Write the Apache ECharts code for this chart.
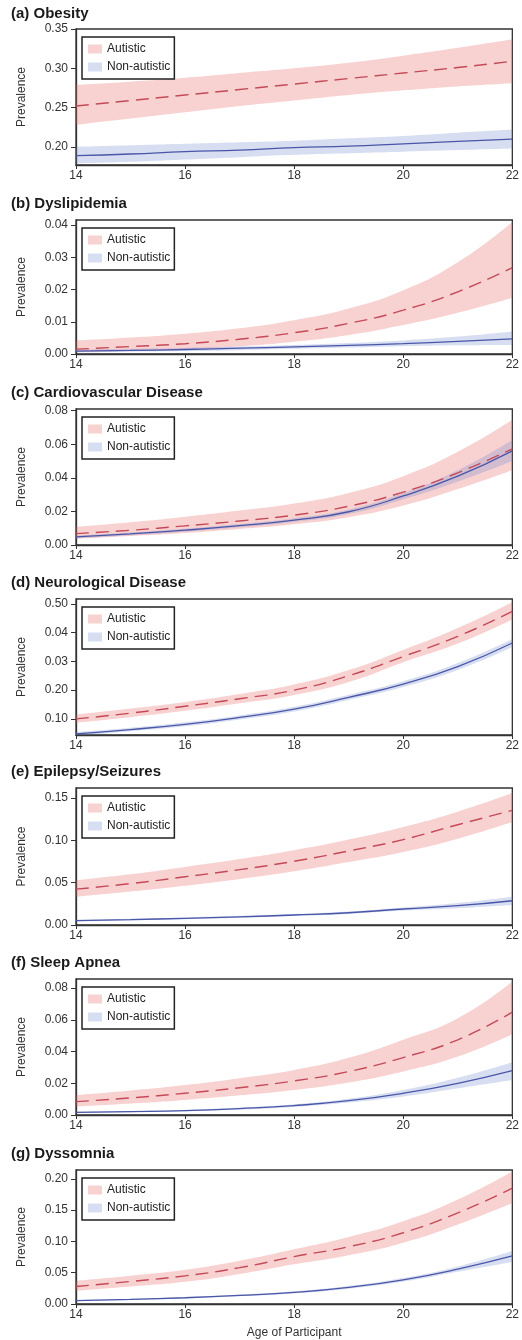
<!DOCTYPE html>
<html>
<head>
<meta charset="utf-8">
<script src="https://cdn.jsdelivr.net/npm/echarts@6/dist/echarts.min.js"></script>
<style>
  html, body { margin: 0; padding: 0; background: #fff; }
</style>
</head>
<body>
<div id="main" style="width: 522px; height: 1340px;"></div>
<script>
const ages = ['14', '15', '16', '17', '18', '19', '20', '21', '22']

// (a) Obesity
const obesityAutMean = [0.252, 0.259, 0.266, 0.273, 0.280, 0.287, 0.294, 0.301, 0.309]
const obesityAutHigh = [0.279, 0.283, 0.288, 0.294, 0.300, 0.307, 0.316, 0.326, 0.337]
const obesityAutLow = [0.228, 0.236, 0.244, 0.252, 0.259, 0.266, 0.272, 0.277, 0.281]
const obesityNonMean = [0.189, 0.191, 0.194, 0.196, 0.199, 0.201, 0.204, 0.207, 0.210]
const obesityNonHigh = [0.200, 0.202, 0.204, 0.206, 0.208, 0.211, 0.214, 0.218, 0.222]
const obesityNonLow = [0.179, 0.181, 0.184, 0.187, 0.190, 0.192, 0.194, 0.196, 0.198]

// (b) Dyslipidemia
const dysliAutMean = [0.0015, 0.0023, 0.0032, 0.0046, 0.0066, 0.0095, 0.0136, 0.0193, 0.0268]
const dysliAutHigh = [0.0042, 0.0051, 0.0063, 0.0080, 0.0105, 0.0141, 0.0198, 0.0285, 0.0410]
const dysliAutLow = [0.0006, 0.0009, 0.0014, 0.0024, 0.0038, 0.0059, 0.0090, 0.0128, 0.0175]
const dysliNonMean = [0.0009, 0.0011, 0.0014, 0.0018, 0.0022, 0.0027, 0.0032, 0.0039, 0.0047]
const dysliNonHigh = [0.0013, 0.0016, 0.0019, 0.0023, 0.0028, 0.0034, 0.0042, 0.0054, 0.0070]
const dysliNonLow = [0.0005, 0.0007, 0.0009, 0.0012, 0.0016, 0.0020, 0.0024, 0.0027, 0.0028]

// (c) Cardiovascular Disease
const cardioAutMean = [0.0068, 0.0088, 0.0114, 0.0143, 0.0178, 0.0231, 0.0315, 0.0430, 0.0573]
const cardioAutHigh = [0.0108, 0.0135, 0.0168, 0.0205, 0.0247, 0.0310, 0.0410, 0.0555, 0.0746]
const cardioAutLow = [0.0038, 0.0054, 0.0072, 0.0096, 0.0124, 0.0166, 0.0235, 0.0333, 0.0447]
const cardioNonMean = [0.0048, 0.0066, 0.0088, 0.0115, 0.0148, 0.0198, 0.0292, 0.0410, 0.0561]
const cardioNonHigh = [0.0056, 0.0075, 0.0097, 0.0125, 0.0160, 0.0212, 0.0310, 0.0445, 0.0625]
const cardioNonLow = [0.0040, 0.0058, 0.0079, 0.0105, 0.0137, 0.0184, 0.0272, 0.0378, 0.0500]

// (d) Neurological Disease
const neuroAutMean = [0.100, 0.120, 0.144, 0.170, 0.200, 0.250, 0.317, 0.387, 0.474]
const neuroAutHigh = [0.115, 0.136, 0.159, 0.187, 0.220, 0.270, 0.340, 0.416, 0.506]
const neuroAutLow = [0.087, 0.106, 0.128, 0.154, 0.183, 0.228, 0.297, 0.362, 0.446]
const neuroNonMean = [0.048, 0.063, 0.081, 0.105, 0.134, 0.175, 0.221, 0.282, 0.364]
const neuroNonHigh = [0.054, 0.069, 0.088, 0.112, 0.142, 0.184, 0.231, 0.294, 0.378]
const neuroNonLow = [0.042, 0.057, 0.074, 0.098, 0.126, 0.166, 0.211, 0.270, 0.350]

// (e) Epilepsy/Seizures
const epiAutMean = [0.0424, 0.0490, 0.0570, 0.0655, 0.0754, 0.0876, 0.1010, 0.1186, 0.1355]
const epiAutHigh = [0.0530, 0.0600, 0.0687, 0.0780, 0.0884, 0.1010, 0.1159, 0.1340, 0.1560]
const epiAutLow = [0.0334, 0.0395, 0.0464, 0.0545, 0.0636, 0.0745, 0.0864, 0.1021, 0.1218]
const epiNonMean = [0.0051, 0.0064, 0.0079, 0.0097, 0.0118, 0.0145, 0.0189, 0.0228, 0.0287]
const epiNonHigh = [0.0061, 0.0075, 0.0090, 0.0108, 0.0130, 0.0160, 0.0208, 0.0260, 0.0334]
const epiNonLow = [0.0042, 0.0054, 0.0068, 0.0085, 0.0106, 0.0131, 0.0170, 0.0198, 0.0236]

// (f) Sleep Apnea
const apneaAutMean = [0.0084, 0.0108, 0.0137, 0.0172, 0.0215, 0.0274, 0.0362, 0.0474, 0.0648]
const apneaAutHigh = [0.0126, 0.0155, 0.0189, 0.0232, 0.0284, 0.0360, 0.0474, 0.0610, 0.0842]
const apneaAutLow = [0.0053, 0.0072, 0.0095, 0.0124, 0.0158, 0.0205, 0.0274, 0.0368, 0.0509]
const apneaNonMean = [0.0017, 0.0021, 0.0027, 0.0040, 0.0059, 0.0090, 0.0137, 0.0200, 0.0280]
const apneaNonHigh = [0.0020, 0.0025, 0.0032, 0.0047, 0.0068, 0.0103, 0.0158, 0.0235, 0.0333]
const apneaNonLow = [0.0014, 0.0018, 0.0023, 0.0034, 0.0051, 0.0078, 0.0116, 0.0168, 0.0221]

// (g) Dyssomnia
const dyssAutMean = [0.028, 0.036, 0.045, 0.058, 0.0757, 0.0915, 0.1138, 0.1455, 0.185]
const dyssAutHigh = [0.037, 0.045, 0.0545, 0.069, 0.0873, 0.107, 0.132, 0.1667, 0.2116]
const dyssAutLow = [0.0212, 0.028, 0.0354, 0.048, 0.0635, 0.078, 0.0979, 0.127, 0.1614]
const dyssNonMean = [0.0053, 0.0073, 0.010, 0.0137, 0.0185, 0.0265, 0.0386, 0.0556, 0.0767]
const dyssNonHigh = [0.0063, 0.0084, 0.0113, 0.0152, 0.0203, 0.0288, 0.0415, 0.0600, 0.0847]
const dyssNonLow = [0.0044, 0.0063, 0.0088, 0.0123, 0.0168, 0.0243, 0.0358, 0.0515, 0.0672]

// tick values and labels (d keeps the labels as printed in the figure)
const obesityTicks = [0.20, 0.25, 0.30, 0.35]
const obesityTickLabels = ['0.20', '0.25', '0.30', '0.35']
const dysliTicks = [0, 0.01, 0.02, 0.03, 0.04]
const dysliTickLabels = ['0.00', '0.01', '0.02', '0.03', '0.04']
const cardioTicks = [0, 0.02, 0.04, 0.06, 0.08]
const cardioTickLabels = ['0.00', '0.02', '0.04', '0.06', '0.08']
const neuroTicks = [0.1, 0.2, 0.3, 0.4, 0.5]
const neuroTickLabels = ['0.10', '0.20', '0.03', '0.04', '0.50']
const epiTicks = [0, 0.05, 0.10, 0.15]
const epiTickLabels = ['0.00', '0.05', '0.10', '0.15']
const apneaTicks = [0, 0.02, 0.04, 0.06, 0.08]
const apneaTickLabels = ['0.00', '0.02', '0.04', '0.06', '0.08']
const dyssTicks = [0, 0.05, 0.10, 0.15, 0.20]
const dyssTickLabels = ['0.00', '0.05', '0.10', '0.15', '0.20']

const titles = ['(a) Obesity', '(b) Dyslipidemia', '(c) Cardiovascular Disease', '(d) Neurological Disease',
    '(e) Epilepsy/Seizures', '(f) Sleep Apnea', '(g) Dyssomnia']

const panels = [
    { aut: [obesityAutMean, obesityAutLow, obesityAutHigh], non: [obesityNonMean, obesityNonLow, obesityNonHigh],
        ticks: obesityTicks, labels: obesityTickLabels, min: 0.177, max: 0.35, top: 29, height: 136 },
    { aut: [dysliAutMean, dysliAutLow, dysliAutHigh], non: [dysliNonMean, dysliNonLow, dysliNonHigh],
        ticks: dysliTicks, labels: dysliTickLabels, min: 0, max: 0.0416, top: 220, height: 134 },
    { aut: [cardioAutMean, cardioAutLow, cardioAutHigh], non: [cardioNonMean, cardioNonLow, cardioNonHigh],
        ticks: cardioTicks, labels: cardioTickLabels, min: 0, max: 0.081, top: 409, height: 136 },
    { aut: [neuroAutMean, neuroAutLow, neuroAutHigh], non: [neuroNonMean, neuroNonLow, neuroNonHigh],
        ticks: neuroTicks, labels: neuroTickLabels, min: 0.044, max: 0.517, top: 599, height: 136 },
    { aut: [epiAutMean, epiAutLow, epiAutHigh], non: [epiNonMean, epiNonLow, epiNonHigh],
        ticks: epiTicks, labels: epiTickLabels, min: 0, max: 0.162, top: 788, height: 137 },
    { aut: [apneaAutMean, apneaAutLow, apneaAutHigh], non: [apneaNonMean, apneaNonLow, apneaNonHigh],
        ticks: apneaTicks, labels: apneaTickLabels, min: 0, max: 0.0857, top: 979, height: 136 },
    { aut: [dyssAutMean, dyssAutLow, dyssAutHigh], non: [dyssNonMean, dyssNonLow, dyssNonHigh],
        ticks: dyssTicks, labels: dyssTickLabels, min: 0, max: 0.214, top: 1170, height: 135 },
]

const FONT = '"Liberation Sans", Arial, sans-serif'
const PINK = 'rgba(231, 97, 97, 0.29)'
const BLUE = 'rgba(110, 135, 205, 0.28)'
const RED_LINE = '#c44a58'
const BLUE_LINE = '#4a56a8'

// band = lower bound, plus (upper - lower) stacked on top of it
const diffs = (lo, hi) => hi.map((h, i) => +(h - lo[i]).toFixed(5))

let option = {
    backgroundColor: '#fff',
    animation: false,
    textStyle: { fontFamily: FONT },
    title: [],
    legend: [],
    grid: [],
    xAxis: [],
    yAxis: [],
    series: [],
}

panels.forEach((p, i) => {
    option.title.push({
        text: titles[i],
        left: 6,
        top: p.top - (i === 0 ? 28 : 29),
        textStyle: { fontSize: 15, fontWeight: 'bold', color: '#1a1a1a', fontFamily: FONT },
    })
    option.grid.push({
        left: 76, right: 5, top: p.top, height: p.height,
        show: true, borderColor: '#333', borderWidth: 1.3, backgroundColor: 'transparent',
    })
    option.legend.push({
        left: 82, top: p.top + 8,
        orient: 'vertical',
        selectedMode: false,
        icon: 'rect',
        itemWidth: 14, itemHeight: 9, itemGap: 6,
        padding: [6, 4, 6, 6],
        borderColor: '#222', borderWidth: 1.5,
        textStyle: { fontSize: 12, color: '#222', fontFamily: FONT },
        data: [
            { name: 'Autistic', itemStyle: { color: PINK, borderWidth: 0 } },
            { name: 'Non-autistic', itemStyle: { color: BLUE, borderWidth: 0 } },
        ],
    })
    const last = i === panels.length - 1
    option.xAxis.push({
        type: 'category', gridIndex: i, data: ages, boundaryGap: false,
        axisLine: { show: true, lineStyle: { color: '#333', width: 1.3 } },
        axisTick: { show: true, length: 4, interval: 1, lineStyle: { color: '#333' } },
        axisLabel: { interval: 1, fontSize: 12, color: '#333', margin: 5, fontFamily: FONT },
        splitLine: { show: false },
        name: last ? 'Age of Participant' : '',
        nameLocation: 'middle', nameGap: 23,
        nameTextStyle: { fontSize: 12, color: '#333', fontFamily: FONT },
    })
    option.yAxis.push({
        type: 'value', gridIndex: i, min: p.min, max: p.max,
        axisLine: { show: true, lineStyle: { color: '#333', width: 1.3 } },
        axisTick: { show: true, length: 5, customValues: p.ticks, lineStyle: { color: '#333' } },
        axisLabel: {
            customValues: p.ticks, fontSize: 12, color: '#333', margin: 8, fontFamily: FONT,
            formatter: (v) => p.labels[p.ticks.findIndex((t) => Math.abs(t - v) < 1e-9)],
        },
        splitLine: { show: false },
        name: 'Prevalence', nameLocation: 'middle', nameGap: 48,
        nameTextStyle: { fontSize: 12, color: '#333', fontFamily: FONT },
    })

    const base = { type: 'line', xAxisIndex: i, yAxisIndex: i, symbol: 'none', smooth: 0.5, silent: true }
    const hidden = { lineStyle: { opacity: 0, width: 0 } }
    option.series.push({ ...base, ...hidden, name: 'autLow' + i, stack: 'aut' + i, data: p.aut[1] })
    option.series.push({ ...base, ...hidden, name: 'Autistic', stack: 'aut' + i, color: PINK,
        areaStyle: { color: PINK, opacity: 1 }, data: diffs(p.aut[1], p.aut[2]) })
    option.series.push({ ...base, ...hidden, name: 'nonLow' + i, stack: 'non' + i, data: p.non[1] })
    option.series.push({ ...base, ...hidden, name: 'Non-autistic', stack: 'non' + i, color: BLUE,
        areaStyle: { color: BLUE, opacity: 1 }, data: diffs(p.non[1], p.non[2]) })
    // estimated prevalence lines
    option.series.push({ ...base, name: 'nonMean' + i, data: p.non[0],
        lineStyle: { color: BLUE_LINE, width: 1.3 } })
    option.series.push({ ...base, name: 'autMean' + i, data: p.aut[0],
        lineStyle: { color: RED_LINE, width: 1.4, type: [13, 7] } })
})

const myChart = echarts.init(document.getElementById('main'))
myChart.setOption(option)
</script>
</body>
</html>
